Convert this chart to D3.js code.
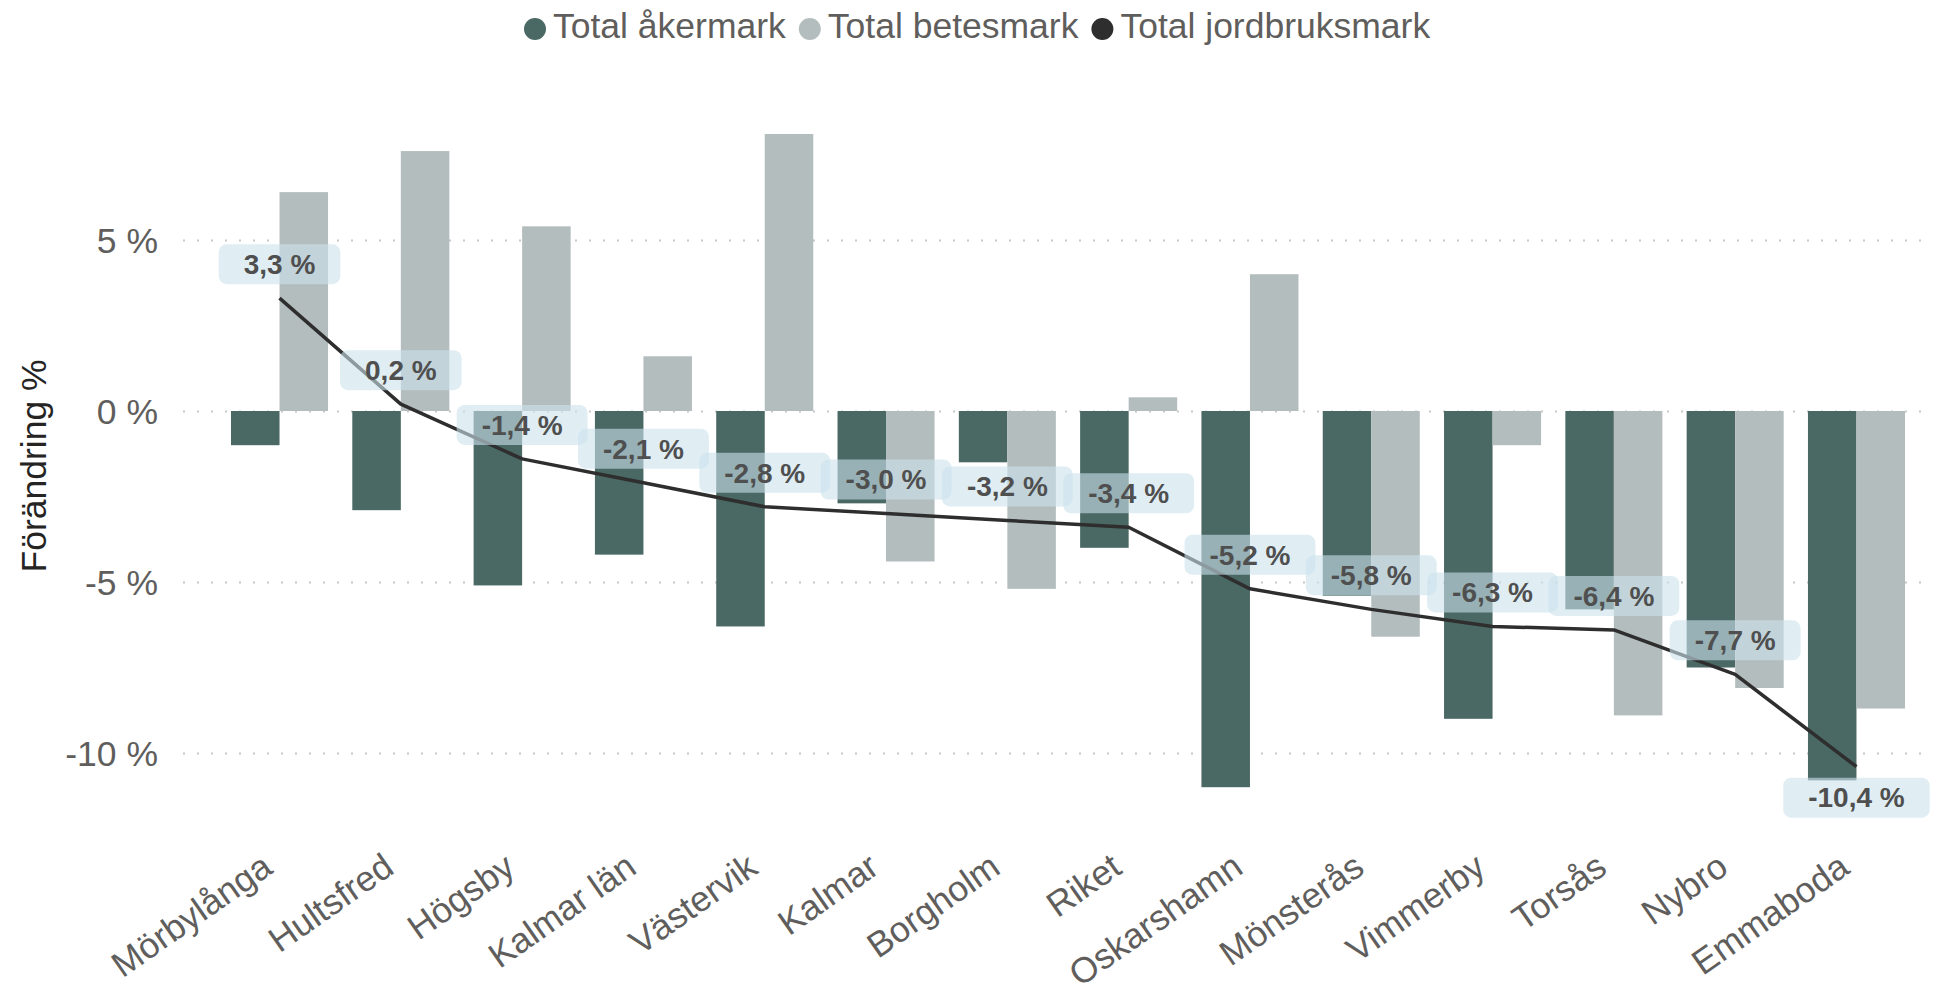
<!DOCTYPE html>
<html>
<head>
<meta charset="utf-8">
<script src="https://cdn.jsdelivr.net/npm/d3@7"></script>
<style>
  html, body { margin: 0; padding: 0; background: #fff; }
  svg { display: block; font-family: "Liberation Sans", Arial, sans-serif; }
</style>
</head>
<body>
<svg id="chart" width="1936" height="997"></svg>
<script>
const categories = ["Mörbylånga","Hultsfred","Högsby","Kalmar län","Västervik","Kalmar","Borgholm","Riket","Oskarshamn","Mönsterås","Vimmerby","Torsås","Nybro","Emmaboda"];
const akermark = [-1.0, -2.9, -5.1, -4.2, -6.3, -2.7, -1.5, -4.0, -11.0, -5.4, -9.0, -5.8, -7.5, -10.8];
const betesmark = [6.4, 7.6, 5.4, 1.6, 8.1, -4.4, -5.2, 0.4, 4.0, -6.6, -1.0, -8.9, -8.1, -8.7];
const jordbruksmark = [3.3, 0.2, -1.4, -2.1, -2.8, -3.0, -3.2, -3.4, -5.2, -5.8, -6.3, -6.4, -7.7, -10.4];
const yTicks = [5, 0, -5, -10];
const seriesNames = ["Total åkermark", "Total betesmark", "Total jordbruksmark"];
const seriesKeys = ["aker", "betes"];

const colors = { aker: "#4a6864", betes: "#b4bdbe", line: "#2e2e2e" };

const svg = d3.select("#chart");

const x = d3.scaleBand().domain(categories).range([231, 1905]).paddingInner(0.2).paddingOuter(0);
const xi = d3.scaleBand().domain(seriesKeys).range([0, x.bandwidth()]).padding(0);
const y = d3.scaleLinear().domain([-10, 5]).range([753, 240]);

const fmt = v => d3.format(".1f")(v).replace(".", ",").replace("−", "-") + " %";

// gridlines
const grid = svg.append("g");
grid.selectAll("line").data(yTicks).join("line")
  .attr("x1", 183).attr("x2", 1930)
  .attr("y1", d => Math.round(y(d)) + 0.5).attr("y2", d => Math.round(y(d)) + 0.5)
  .attr("stroke", "#c8c8c8").attr("stroke-width", 2).attr("stroke-dasharray", "2 12");

// y axis labels
const yAxis = d3.axisLeft(y).tickValues(yTicks).tickSize(0).tickPadding(0).tickFormat(d => d + " %");
const yg = svg.append("g").attr("transform", "translate(158,0)").call(yAxis);
yg.select(".domain").remove();
yg.selectAll("text").attr("font-size", 35.5).attr("fill", "#605e5c")
  .attr("font-family", "'Liberation Sans', Arial, sans-serif").attr("dy", "0.35em");

// y title
svg.append("text").attr("transform", "translate(46,466) rotate(-90)")
  .attr("text-anchor", "middle").attr("font-size", 35.5).attr("fill", "#252423")
  .text("Förändring %");

// bars
const rows = categories.map((c, i) => ({ cat: c, aker: akermark[i], betes: betesmark[i], total: jordbruksmark[i] }));
const groups = svg.append("g").selectAll("g").data(rows).join("g")
  .attr("transform", d => `translate(${x(d.cat)},0)`);
groups.selectAll("rect").data(d => seriesKeys.map(k => ({ k, v: d[k] }))).join("rect")
  .attr("x", d => xi(d.k)).attr("width", xi.bandwidth())
  .attr("y", d => y(Math.max(0, d.v))).attr("height", d => Math.abs(y(d.v) - y(0)))
  .attr("fill", d => colors[d.k]);

// line
const cx = d => x(d.cat) + x.bandwidth() / 2;
const line = d3.line().x(cx).y(d => y(d.total));
svg.append("path").datum(rows).attr("d", line)
  .attr("fill", "none").attr("stroke", colors.line).attr("stroke-width", 3.5).attr("stroke-linejoin", "round");

// data labels
const lab = svg.append("g").selectAll("g").data(rows).join("g")
  .attr("transform", d => {
    const py = y(d.total);
    const cy = d.total < -10 ? py + 31 : py - 34;
    return `translate(${cx(d)},${cy})`;
  });
lab.append("text").attr("class", "vl")
  .attr("text-anchor", "middle").attr("dy", "0.35em")
  .attr("font-size", 28).attr("font-weight", "bold").attr("fill", "#4f4f4f")
  .text(d => fmt(d.total));
lab.each(function() {
  const g = d3.select(this);
  const t = g.select("text");
  const w = t.node().getComputedTextLength() + 50;
  g.insert("rect", "text").attr("x", -w / 2).attr("y", -20).attr("width", w).attr("height", 40)
    .attr("rx", 8).attr("fill", "rgb(203,227,237)").attr("fill-opacity", 0.6);
});

// x labels
const xAxis = d3.axisBottom(x).tickSize(0).tickPadding(0);
const xg = svg.append("g").attr("transform", "translate(-5,872)").call(xAxis);
xg.select(".domain").remove();
xg.selectAll("text").attr("font-size", 35.5).attr("fill", "#605e5c")
  .attr("font-family", "'Liberation Sans', Arial, sans-serif")
  .attr("text-anchor", "end").attr("dy", 0).attr("y", 0)
  .attr("transform", "rotate(-35)");

// legend
const leg = svg.append("g");
let lx = 535;
seriesNames.forEach((name, i) => {
  const color = [colors.aker, colors.betes, colors.line][i];
  leg.append("circle").attr("cx", lx).attr("cy", 29).attr("r", 11).attr("fill", color);
  const t = leg.append("text").attr("x", lx + 18).attr("y", 38).attr("font-size", 35.5).attr("fill", "#605e5c")
    .text(name);
  lx = lx + 18 + t.node().getComputedTextLength() + 24;
});
</script>
</body>
</html>
